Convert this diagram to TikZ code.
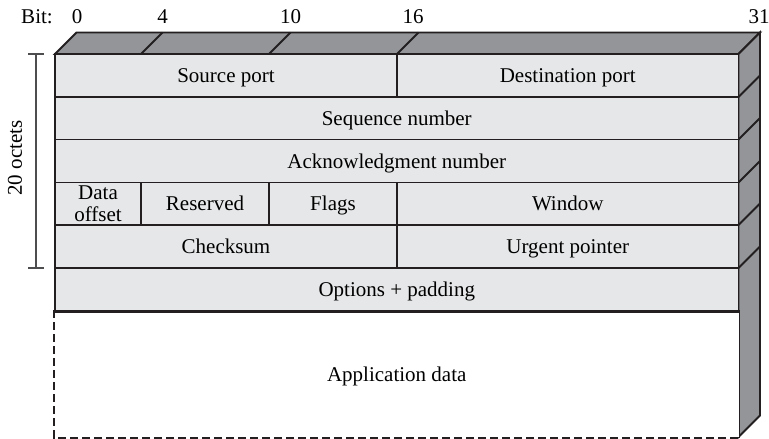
\documentclass[tikz,border=0pt]{standalone}
\usepackage{fontspec}
\setmainfont{Liberation Serif}
\definecolor{lineclr}{HTML}{231F20}
\definecolor{faceclr}{HTML}{E6E7E8}
\definecolor{sideclr}{HTML}{939598}
\definecolor{brkclr}{HTML}{4D4D4F}
\begin{document}
\begin{tikzpicture}[x=1pt,y=-1pt,
  edge/.style={draw=lineclr,line width=1.9pt,line join=miter},
  side/.style={edge,fill=sideclr},
  cell/.style={edge,fill=faceclr,rectangle,inner sep=0pt,align=center,
    font=\fontsize{21}{22}\selectfont},
  one/.style={cell,text height=18pt,text depth=4pt},
  lbl/.style={inner sep=0pt,font=\fontsize{21}{23}\selectfont},
  brk/.style={draw=brkclr,line width=1.1pt}]
\useasboundingbox (0,0) rectangle (769,439);
% top face
\path[side] (55,54) -- (76.5,32.5) -- (760,32.5) -- (738.5,54) -- cycle;
\coordinate (t4f) at (141,54);  \coordinate (t4b) at (162.5,32.5);
\coordinate (t10f) at (269,54); \coordinate (t10b) at (290.5,32.5);
\coordinate (t16f) at (397,54); \coordinate (t16b) at (418.5,32.5);
\draw[edge] (t4f) -- (t4b);
\draw[edge] (t10f) -- (t10b);
\draw[edge] (t16f) -- (t16b);
% right face
\path[side] (738.5,54) -- (760,32.5) -- (760,415.5) -- (738.5,437) -- cycle;
\foreach \y in {97,139.5,182.5,225,268}{
  \draw[edge] (738.5,\y) -- (760,\y-21.5);
}
% front cells
\node[one,minimum width=342,minimum height=43] (src) at (226,75.5) {Source port};
\node[one,minimum width=341.5,minimum height=43] (dst) at (567.75,75.5) {Destination port};
\node[one,minimum width=683.5,minimum height=42.5] (seq) at (396.75,118.25) {Sequence number};
\node[one,minimum width=683.5,minimum height=43] (ack) at (396.75,161) {Acknowledgment number};
\node[cell,minimum width=86,minimum height=42.5] (doff) at (98,203.75) {Data\\offset};
\node[one,minimum width=128,minimum height=42.5] (res) at (205,203.75) {Reserved};
\node[one,minimum width=128,minimum height=42.5] (flg) at (333,203.75) {Flags};
\node[one,minimum width=341.5,minimum height=42.5] (win) at (567.75,203.75) {Window};
\node[one,minimum width=342,minimum height=43] (chk) at (226,246.5) {Checksum};
\node[one,minimum width=341.5,minimum height=43] (urg) at (567.75,246.5) {Urgent pointer};
\node[one,minimum width=683.5,minimum height=43] (opt) at (396.75,289.5) {Options + padding};
\node[one,draw=none,fill=white,minimum width=683.5,minimum height=126] (app) at (396.75,374) {Application data};
\draw[edge,dash pattern=on 8pt off 4pt] (app.north west) -- (app.south west) -- (app.south east);
\draw[edge] (app.north east) -- (app.south east);
\draw[edge] (opt.south west) -- (opt.south east);
% bit labels
\node[lbl] (bit) at (37,16.5) {Bit:};
\node[lbl] (b0) at (77,16.5) {0};
\node[lbl] (b4) at (162.5,16.5) {4};
\node[lbl] (b10) at (290.5,16.5) {10};
\node[lbl] (b16) at (413,16.5) {16};
\node[lbl] (b31) at (759,16.5) {31};
% bracket
\coordinate (bt) at (36,54);
\coordinate (bb) at (36,268);
\draw[brk] ([xshift=-8pt]bt) -- ([xshift=8pt]bt);
\draw[brk] ([xshift=-8pt]bb) -- ([xshift=8pt]bb);
\draw[brk] (bt) -- (bb);
\node[lbl,rotate=90] (oct) at (15,158) {20 octets};
\end{tikzpicture}
\end{document}
